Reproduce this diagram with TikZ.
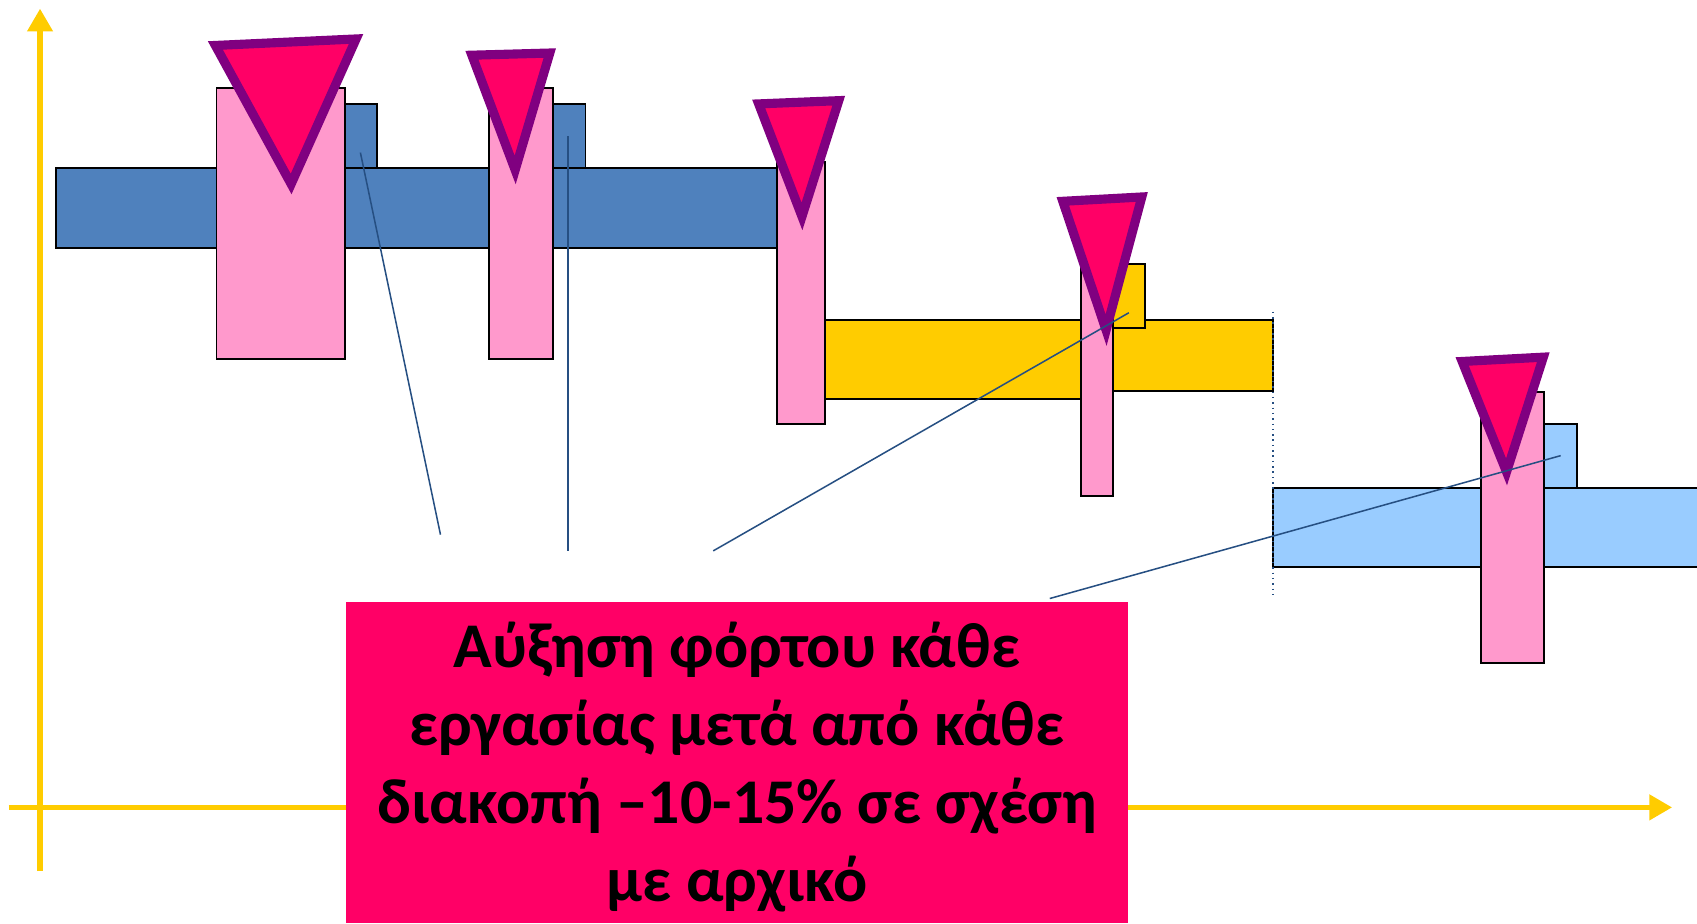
\documentclass[tikz,border=0pt]{standalone}
\usepackage{fontspec}
\setmainfont{Carlito}
\usetikzlibrary{arrows.meta}
\definecolor{barblue}{HTML}{4F81BD}
\definecolor{barpink}{HTML}{FF99CC}
\definecolor{baryellow}{HTML}{FFCC00}
\definecolor{barlight}{HTML}{99CCFF}
\definecolor{trifill}{HTML}{FF0066}
\definecolor{tripurple}{HTML}{800080}
\definecolor{leadblue}{HTML}{264F82}
\definecolor{axisyellow}{HTML}{FFCC00}
\begin{document}
\begin{tikzpicture}[x=0.02cm,y=-0.02cm,
  bar/.style={draw=black,line width=1pt},
  tri/.style={draw=tripurple,fill=trifill,line width=4.8pt,line join=miter,miter limit=20},
  leader/.style={draw=leadblue,line width=0.8pt},
  axisline/.style={draw=axisyellow,line width=2.8pt,-{Triangle[width=13pt,length=12pt]}},
  note/.style={fill=trifill,draw=none}]
\useasboundingbox (0,0) rectangle (1568,853);
% axes
\coordinate (yb) at (37,805);
\coordinate (yt) at (37,8);
\coordinate (xl) at (8,746);
\coordinate (xr) at (1545,746);
\draw[axisline] (yb) -- (yt);
\draw[axisline] (xl) -- (xr);
% blue bars
\draw[bar,fill=barblue] (52,155) rectangle (718,229);
\draw[bar,fill=barblue] (318,96) rectangle (348,155);
\draw[bar,fill=barblue] (511,96) rectangle (541,155);
% yellow bars
\draw[bar,fill=baryellow] (762,296) rectangle (1000,369);
\draw[bar,fill=baryellow] (1028,296) rectangle (1176,361);
\draw[bar,fill=baryellow] (1028,244) rectangle (1058,303);
% light blue bars
\draw[bar,fill=barlight] (1176,451) rectangle (1580,524);
\draw[bar,fill=barlight] (1427,392) rectangle (1457,451);
% pink bars
\draw[bar,fill=barpink] (200,81) rectangle (319,332);
\draw[bar,fill=barpink] (452,81) rectangle (511,332);
\draw[bar,fill=barpink] (718,150) rectangle (762,392);
\draw[bar,fill=barpink] (999,244) rectangle (1028,458);
\draw[bar,fill=barpink] (1368,362) rectangle (1427,613);
% dotted separator
\coordinate (dt) at (1176,288);
\coordinate (db) at (1176,553);
\draw[leadblue,line width=0.8pt,dotted] (dt) -- (db);
% triangles
\draw[tri] (199,42) -- (329,36) -- (269,170) -- cycle;
\draw[tri] (436,51) -- (508,49) -- (476,157) -- cycle;
\draw[tri] (701,96) -- (775,93) -- (741,200) -- cycle;
\draw[tri] (982,186) -- (1055,182) -- (1022,305) -- cycle;
\draw[tri] (1351,334) -- (1426,330) -- (1392,436) -- cycle;
% leader lines
\coordinate (a1) at (333,141);
\coordinate (b1) at (407,494);
\coordinate (a2) at (525,126);
\coordinate (b2) at (525,509);
\coordinate (a3) at (1043,289);
\coordinate (b3) at (659,509);
\coordinate (a4) at (1442,421);
\coordinate (b4) at (970,553);
\draw[leader] (a1) -- (b1);
\draw[leader] (a2) -- (b2);
\draw[leader] (a3) -- (b3);
\draw[leader] (a4) -- (b4);
% note box
\fill[note] (320,556) rectangle (1042,853);
\node[align=center,font=\fontsize{33.5}{41}\selectfont\bfseries,text=black] (txt) at (681,709)
  {Αύξηση φόρτου κάθε\\εργασίας μετά από κάθε\\διακοπή –10-15\% σε σχέση\\με αρχικό};
\end{tikzpicture}
\end{document}
